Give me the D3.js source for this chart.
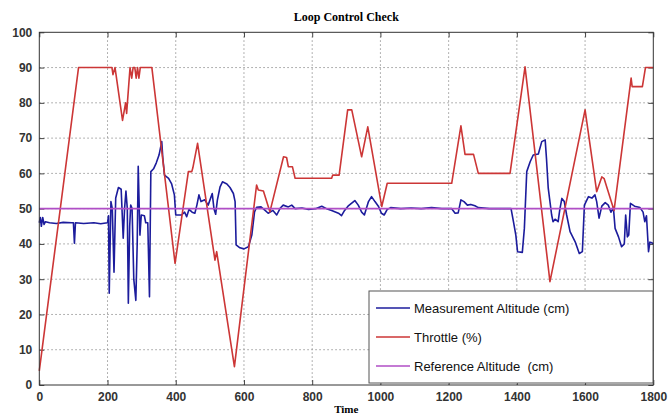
<!DOCTYPE html>
<html>
<head>
<meta charset="utf-8">
<script src="https://cdn.jsdelivr.net/npm/d3@7"></script>
<style>
  body { margin: 0; background: #fff; }
  .tick-label { font-family: "Liberation Sans", Arial, sans-serif; font-weight: bold; font-size: 12px; fill: #333; }
</style>
</head>
<body>
<div id="chart"></div>
<script>
// data
const measTime = [0, 3, 6, 10, 14, 18, 30, 50, 70, 95, 100, 103, 106, 130, 160, 180, 200, 203, 205, 210, 214, 219, 224, 232, 240, 246, 250, 254, 258, 261, 265, 268, 272, 277, 283, 287, 290, 295, 299, 308, 312, 318, 323, 327, 335, 343, 351, 359, 362, 367, 379, 388, 396, 400, 417, 426, 432, 439, 448, 456, 462, 468, 474, 485, 495, 507, 512, 517, 522, 530, 537, 550, 559, 569, 574, 577, 588, 600, 613, 623, 631, 637, 650, 662, 671, 685, 696, 706, 715, 730, 740, 750, 770, 789, 810, 828, 842, 857, 877, 886, 895, 905, 925, 935, 945, 953, 965, 974, 984, 994, 1003, 1011, 1020, 1030, 1060, 1090, 1120, 1150, 1180, 1209, 1219, 1228, 1236, 1245, 1255, 1265, 1277, 1287, 1320, 1383, 1390, 1397, 1402, 1416, 1422, 1429, 1439, 1448, 1463, 1473, 1483, 1487, 1492, 1502, 1506, 1512, 1521, 1526, 1532, 1539, 1546, 1556, 1571, 1583, 1592, 1598, 1610, 1620, 1629, 1634, 1641, 1649, 1659, 1668, 1676, 1683, 1688, 1698, 1707, 1715, 1719, 1724, 1728, 1733, 1745, 1761, 1770, 1775, 1780, 1786, 1790, 1796, 1800];
const measAlt = [46, 47.5, 45, 47.5, 45.5, 46.3, 46, 45.8, 46.1, 46, 46, 40.2, 46, 45.8, 46, 45.7, 46, 48, 26, 52, 50, 32, 53, 56, 55.5, 41.6, 50, 55, 50, 23.2, 45, 51, 50, 30, 24, 40, 62, 42.5, 48.2, 48, 46, 46, 25, 60.5, 61.3, 63, 65.2, 69, 64.5, 59.5, 58.6, 57, 53.9, 48.2, 48.2, 49, 47.7, 49.8, 49, 48.7, 51, 53.9, 52, 52.5, 51, 54.3, 50, 48.4, 52.4, 56.2, 57.6, 57, 56, 54.3, 52, 39.7, 38.9, 38.6, 39.2, 42.5, 49.1, 50.4, 50.5, 49.5, 48.7, 49.5, 48.2, 50.1, 51, 50.5, 51, 50, 50.2, 49.8, 50, 50.7, 50, 49.5, 48.7, 48, 49.5, 50.7, 52.3, 51, 49, 48.2, 52, 53.4, 52, 50.7, 48.7, 48.2, 49.8, 50.3, 50, 50.2, 50, 50.3, 50, 50, 48.7, 48.8, 52.5, 52, 51, 51.2, 50.8, 50.3, 50, 50, 46.3, 42.5, 37.8, 37.6, 44.4, 60.5, 63.3, 65.2, 65.5, 69, 69.5, 64, 55.8, 48.2, 46.3, 47, 46.3, 49.8, 52.9, 52, 48.2, 43.5, 40.6, 37.3, 37.8, 51, 53.4, 53, 53.9, 52, 47.3, 50.7, 51.7, 51, 49, 50.3, 44.4, 42, 39.2, 40, 48.2, 42, 42.5, 51.5, 50.7, 50.3, 49, 46.3, 48, 37.8, 40.5, 40.3, 40];

const throttleTime = [0, 115, 213, 216, 222, 244, 253, 256, 266, 271, 275, 280, 284, 288, 292, 296, 330, 398, 437, 447, 450, 464, 515, 520, 572, 637, 642, 657, 676, 716, 725, 730, 742, 750, 857, 860, 879, 904, 916, 945, 963, 1004, 1020, 1209, 1236, 1248, 1273, 1287, 1380, 1424, 1497, 1600, 1634, 1649, 1656, 1685, 1735, 1738, 1768, 1777, 1800];
const throttleVal = [4, 90, 90, 88, 90, 75, 80, 77, 90, 87, 90, 90, 87, 90, 87, 90, 90, 34.5, 60.5, 60.5, 61.5, 68.5, 35.4, 37.8, 5.2, 56.7, 55.3, 55, 49.1, 64.7, 64.5, 61.9, 61.9, 58.6, 58.6, 59.5, 59.5, 78, 78, 64.7, 73.2, 50.6, 57.2, 57.2, 73.5, 65.4, 65.4, 60, 60, 90.2, 29.3, 78, 54.8, 59, 58.5, 49.5, 87, 84.6, 84.6, 90, 90];

const refTime = [0, 1800];
const refAlt = [50, 50];

const xTicks = [0, 200, 400, 600, 800, 1000, 1200, 1400, 1600, 1800];
const yTicks = [0, 10, 20, 30, 40, 50, 60, 70, 80, 90, 100];

const seriesNames = ['Measurement Altitude (cm)', 'Throttle (%)', 'Reference Altitude  (cm)'];
const seriesColors = ['#1c1c9c', '#cc3636', '#b04ec6'];

// layout
const fullWidth = 669;
const fullHeight = 419;
const margin = { top: 32.3, right: 15.7, bottom: 34, left: 39.3 };
const width = fullWidth - margin.left - margin.right;
const height = fullHeight - margin.top - margin.bottom;

const svg = d3.select('#chart').append('svg')
  .attr('width', fullWidth)
  .attr('height', fullHeight);

const g = svg.append('g')
  .attr('transform', `translate(${margin.left},${margin.top})`);

const x = d3.scaleLinear().domain([0, 1800]).range([0, width]);
const y = d3.scaleLinear().domain([0, 100]).range([height, 0]);

// plot background
g.append('rect')
  .attr('width', width)
  .attr('height', height)
  .attr('fill', '#fff');

// dotted grid
g.append('g').selectAll('line').data(xTicks.slice(1, -1)).join('line')
  .attr('x1', d => x(d)).attr('x2', d => x(d))
  .attr('y1', 0).attr('y2', height)
  .attr('stroke', '#9a9a9a').attr('stroke-width', 1)
  .attr('stroke-dasharray', '1.5,2.5');

g.append('g').selectAll('line').data(yTicks.slice(1, -1)).join('line')
  .attr('x1', 0).attr('x2', width)
  .attr('y1', d => y(d)).attr('y2', d => y(d))
  .attr('stroke', '#9a9a9a').attr('stroke-width', 1)
  .attr('stroke-dasharray', '1.5,2.5');

// axes (inner ticks like matlab)
const xAxisG = g.append('g')
  .attr('transform', `translate(0,${height})`)
  .call(d3.axisBottom(x).tickValues(xTicks).tickFormat(d3.format('d'))
    .tickSizeInner(-5).tickSizeOuter(0).tickPadding(9));
const yAxisG = g.append('g')
  .call(d3.axisLeft(y).tickValues(yTicks).tickFormat(d3.format('d'))
    .tickSizeInner(-5).tickSizeOuter(0).tickPadding(7));
g.append('g')
  .call(d3.axisTop(x).tickValues(xTicks).tickSizeInner(-5).tickSizeOuter(0).tickFormat(''));
g.append('g')
  .attr('transform', `translate(${width},0)`)
  .call(d3.axisRight(y).tickValues(yTicks).tickSizeInner(-5).tickSizeOuter(0).tickFormat(''));

svg.selectAll('.domain').remove();
svg.selectAll('.tick line').attr('stroke', '#444');
xAxisG.selectAll('text').attr('class', 'tick-label').attr('dy', '0.6em');
yAxisG.selectAll('text').attr('class', 'tick-label');

// lines
const line = d3.line().x(d => x(d[0])).y(d => y(d[1]));
const measPts = measTime.map((t, i) => [t, measAlt[i]]);
const throttlePts = throttleTime.map((t, i) => [t, throttleVal[i]]);
const refPts = refTime.map((t, i) => [t, refAlt[i]]);

const plotArea = g.append('g');
[measPts, throttlePts, refPts].forEach((pts, i) => {
  plotArea.append('path')
    .datum(pts)
    .attr('d', line)
    .attr('fill', 'none')
    .attr('stroke', seriesColors[i])
    .attr('stroke-width', 1.6)
    .attr('stroke-linejoin', 'round');
});

// frame
g.append('rect')
  .attr('width', width)
  .attr('height', height)
  .attr('fill', 'none')
  .attr('stroke', '#333')
  .attr('stroke-width', 1);

// legend
const legend = svg.append('g').attr('transform', 'translate(369,291)');
legend.append('rect')
  .attr('width', 284).attr('height', 92)
  .attr('fill', '#fff').attr('stroke', '#555');
seriesNames.forEach((name, i) => {
  const row = legend.append('g').attr('transform', `translate(0,${17 + i * 29})`);
  row.append('line')
    .attr('x1', 7).attr('x2', 41)
    .attr('stroke', seriesColors[i]).attr('stroke-width', 1.6);
  row.append('text')
    .attr('x', 45).attr('dy', '0.35em')
    .style('font-family', '"Liberation Sans", Arial, sans-serif')
    .style('font-size', '13px')
    .style('white-space', 'pre')
    .attr('fill', '#111')
    .text(name);
});

// title and x label
svg.append('text')
  .attr('x', margin.left + width / 2)
  .attr('y', 21)
  .attr('text-anchor', 'middle')
  .style('font-family', '"Liberation Serif", "Times New Roman", serif')
  .style('font-weight', 'bold')
  .style('font-size', '12px')
  .text('Loop Control Check');

svg.append('text')
  .attr('x', margin.left + width / 2)
  .attr('y', 413)
  .attr('text-anchor', 'middle')
  .style('font-family', '"Liberation Serif", "Times New Roman", serif')
  .style('font-weight', 'bold')
  .style('font-size', '11px')
  .text('Time');
</script>
</body>
</html>
